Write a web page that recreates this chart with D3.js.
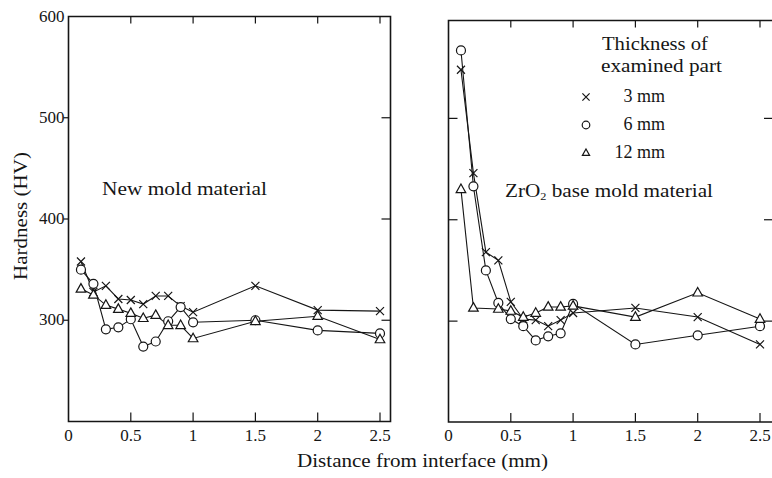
<!DOCTYPE html>
<html>
<head>
<meta charset="utf-8">
<script src="https://cdn.jsdelivr.net/npm/d3@7"></script>
<style>
  html, body { margin: 0; padding: 0; background: #fff; }
  svg { display: block; }
  svg text { font-family: "Liberation Serif", "Times New Roman", "DejaVu Serif", serif; }
</style>
</head>
<body>
<svg id="chart" width="772" height="478"></svg>
<script>
// distances (mm) where hardness was measured
const distance = [0.1, 0.2, 0.3, 0.4, 0.5, 0.6, 0.7, 0.8, 0.9, 1.0, 1.5, 2.0, 2.5];

// new mold material (HV)
const newMold3mm = [358, 328, 334, 321, 320, 316, 324, 324, 314, 308, 334, 310, 309];
const newMold6mm = [350, 336, 291, 293, 301, 274, 279, 299, 313, 298, 300, 290, 287];
const newMold12mm = [331, 325, 315, 311, 307, 302, 305, 295, 295, 282, 299, 304, 281];

// ZrO2 base mold material (HV)
const zro3mm = [548, 446, 368, 360, 319, 302, 301, 295, 301, 308, 313, 304, 277];
const zro6mm = [567, 433, 350, 318, 302, 295, 281, 285, 288, 317, 277, 286, 295];
const zro12mm = [430, 313, null, 312, 310, 304, 308, 314, 314, 315, 304, 328, 302];

const xTicks = [0, 0.5, 1, 1.5, 2, 2.5];
const xTickLabels = ["0", "0.5", "1", "1.5", "2", "2.5"];
const yTicks = [300, 400, 500, 600];
const legendLabels = ["3 mm", "6 mm", "12 mm"];
const markerKinds = ["cross", "circle", "triangle"];

const svg = d3.select("#chart");
const ink = "#151515";

const panels = [
  {
    x: d3.scaleLinear().domain([0, 2.5]).range([68.5, 380]),
    y: d3.scaleLinear().domain([200, 600]).range([421.5, 16.5]),
    frame: { left: 68.5, right: 390.5, top: 16.5, bottom: 421.5 },
    series: [newMold3mm, newMold6mm, newMold12mm],
    yLabels: true
  },
  {
    x: d3.scaleLinear().domain([0, 2.5]).range([448.5, 760]),
    y: d3.scaleLinear().domain([200, 600]).range([422.5, 17]),
    frame: { left: 448.5, right: 773, top: 20.5, bottom: 422 },
    series: [zro3mm, zro6mm, zro12mm],
    yLabels: false
  }
];

function drawMarker(g, kind, cx, cy, s) {
  if (kind === "cross") {
    g.append("path")
      .attr("d", `M${cx - s},${cy - s}L${cx + s},${cy + s}M${cx - s},${cy + s}L${cx + s},${cy - s}`)
      .attr("stroke", ink).attr("stroke-width", 1.2).attr("fill", "none");
  } else if (kind === "circle") {
    g.append("circle").attr("cx", cx).attr("cy", cy).attr("r", s)
      .attr("fill", "#fff").attr("stroke", ink).attr("stroke-width", 1.2);
  } else {
    const h = s * 1.1;
    g.append("path")
      .attr("d", `M${cx},${cy - h}L${cx + s},${cy + h * 0.62}L${cx - s},${cy + h * 0.62}Z`)
      .attr("fill", "#fff").attr("stroke", ink).attr("stroke-width", 1.2);
  }
}

panels.forEach((p) => {
  const g = svg.append("g");
  const f = p.frame;

  // frame
  g.append("path")
    .attr("d", `M${f.left},${f.top}H${f.right}V${f.bottom}H${f.left}Z`)
    .attr("fill", "none").attr("stroke", ink).attr("stroke-width", 1.6);

  // x ticks, inward on top and bottom
  xTicks.filter((t) => t > 0).forEach((t) => {
    const x = p.x(t);
    g.append("line").attr("x1", x).attr("x2", x).attr("y1", f.bottom).attr("y2", f.bottom - 9)
      .attr("stroke", ink).attr("stroke-width", 1.2);
    g.append("line").attr("x1", x).attr("x2", x).attr("y1", f.top).attr("y2", f.top + 7)
      .attr("stroke", ink).attr("stroke-width", 1.2);
  });
  xTicks.forEach((t, i) => {
    g.append("text").attr("x", p.x(t)).attr("y", 441)
      .attr("text-anchor", "middle").attr("font-size", 17).attr("fill", ink)
      .text(xTickLabels[i]);
  });

  // y ticks
  yTicks.filter((t) => t < 600).forEach((t) => {
    const y = p.y(t);
    if (p.yLabels) {
      g.append("line").attr("x1", f.left - 5).attr("x2", f.left).attr("y1", y).attr("y2", y)
        .attr("stroke", ink).attr("stroke-width", 1.2);
    } else {
      g.append("line").attr("x1", f.left).attr("x2", f.left + 9).attr("y1", y).attr("y2", y)
        .attr("stroke", ink).attr("stroke-width", 1.2);
    }
    g.append("line").attr("x1", f.right - 9).attr("x2", f.right).attr("y1", y).attr("y2", y)
      .attr("stroke", ink).attr("stroke-width", 1.2);
  });
  if (p.yLabels) {
    yTicks.forEach((t) => {
      g.append("text").attr("x", f.left - 4).attr("y", p.y(t) + 5)
        .attr("text-anchor", "end").attr("font-size", 17).attr("fill", ink)
        .text(t);
    });
  }

  // series: lines first, then markers
  const line = d3.line().x((d) => p.x(d[0])).y((d) => p.y(d[1]));
  const pts = p.series.map((vals) =>
    distance.map((d, i) => [d, vals[i]]).filter((d) => d[1] != null)
  );
  pts.forEach((s) => {
    g.append("path").attr("d", line(s)).attr("fill", "none")
      .attr("stroke", ink).attr("stroke-width", 1.1);
  });
  pts.forEach((s, k) => {
    s.forEach((d) => {
      const size = markerKinds[k] === "circle" ? 4.5 : markerKinds[k] === "cross" ? 4 : 4.8;
      drawMarker(g, markerKinds[k], p.x(d[0]), p.y(d[1]), size);
    });
  });
});

// axis titles and annotations
svg.append("text")
  .attr("transform", "translate(27,216) rotate(-90)")
  .attr("text-anchor", "middle").attr("font-size", 19).attr("fill", ink)
  .attr("textLength", 128).attr("lengthAdjust", "spacingAndGlyphs")
  .text("Hardness (HV)");

svg.append("text")
  .attr("x", 297).attr("y", 467)
  .attr("font-size", 19).attr("fill", ink)
  .attr("textLength", 251).attr("lengthAdjust", "spacingAndGlyphs")
  .text("Distance from interface (mm)");

svg.append("text")
  .attr("x", 102).attr("y", 195)
  .attr("font-size", 19).attr("fill", ink)
  .attr("textLength", 165).attr("lengthAdjust", "spacingAndGlyphs")
  .text("New mold material");

const zr = svg.append("text")
  .attr("x", 505).attr("y", 197)
  .attr("font-size", 19).attr("fill", ink)
  .attr("textLength", 208).attr("lengthAdjust", "spacingAndGlyphs");
zr.append("tspan").text("ZrO");
zr.append("tspan").attr("font-size", 11).attr("dy", 3).text("2");
zr.append("tspan").attr("dy", -3).text(" base mold material");

// legend
svg.append("text").attr("x", 602).attr("y", 50)
  .attr("font-size", 19).attr("fill", ink)
  .attr("textLength", 106).attr("lengthAdjust", "spacingAndGlyphs")
  .text("Thickness of");
svg.append("text").attr("x", 601).attr("y", 72)
  .attr("font-size", 19).attr("fill", ink)
  .attr("textLength", 121).attr("lengthAdjust", "spacingAndGlyphs")
  .text("examined part");

const legendY = d3.scalePoint().domain(legendLabels).range([97, 153]);
const lg = svg.append("g");
legendLabels.forEach((lab, k) => {
  const y = legendY(lab);
  drawMarker(lg, markerKinds[k], 586, y, k === 1 ? 3.8 : 3.6);
  lg.append("text").attr("x", 665).attr("y", y + 5)
    .attr("text-anchor", "end").attr("font-size", 18).attr("fill", ink)
    .text(lab);
});
</script>
</body>
</html>
